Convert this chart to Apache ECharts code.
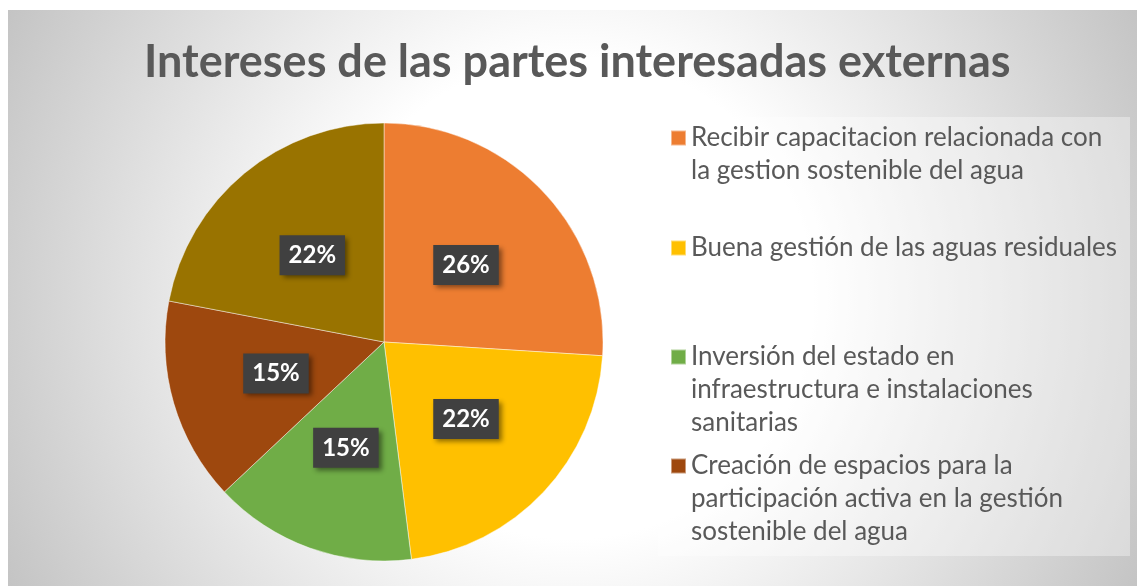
<!DOCTYPE html>
<html>
<head>
<meta charset="utf-8">
<script src="https://cdn.jsdelivr.net/npm/echarts@6/dist/echarts.min.js"></script>
<style>
  html, body { margin: 0; padding: 0; background: #fff; }
  #chart {
    position: absolute;
    left: 8px;
    top: 10px;
    width: 1129px;
    height: 576px;
    background: radial-gradient(circle farthest-corner at 50% 50%, #ffffff 0%, #ffffff 38%, #c4c4c4 100%);
  }
</style>
</head>
<body>
<div id="chart"></div>
<script>
const titleText = 'Intereses de las partes interesadas externas';

const categories = [
    'Recibir capacitacion relacionada con la gestion sostenible del agua',
    'Buena gestión de las aguas residuales',
    'Inversión del estado en infraestructura e instalaciones sanitarias',
    'Creación de espacios para la participación activa en la gestión sostenible del agua',
    'Otros intereses'
];

// legend text as it wraps in the picture (5th entry is cut off there)
const legendLines = [
    ['Recibir capacitacion relacionada con', 'la gestion sostenible del agua'],
    ['Buena gestión de las aguas residuales'],
    ['Inversión del estado en', 'infraestructura e instalaciones', 'sanitarias'],
    ['Creación de espacios para la', 'participación activa en la gestión', 'sostenible del agua']
];

const values = [26, 22, 15, 15, 22];

const colors = ['#ED7D31', '#FFC000', '#70AD47', '#9E480E', '#997300'];

const LH = 33;
// centre of the first text line of each legend entry (px from chart top)
const legendRows = [128, 238, 347, 456];

// legend centres text on the icon, so pad with blank lines above
// to keep the icon level with the first line
const legends = legendLines.map((lines, i) => {
    const n = lines.length;
    const text = '\n'.repeat(n - 1) + lines.join('\n');
    return {
        data: [categories[i]],
        orient: 'vertical',
        left: 662,
        top: legendRows[i] - (2 * n - 1) * LH / 2,
        padding: 0,
        icon: 'rect',
        itemWidth: 15,
        itemHeight: 15,
        selectedMode: false,
        formatter: () => text,
        textStyle: {
            fontFamily: 'Lato',
            fontSize: 26,
            color: '#595959',
            lineHeight: LH
        }
    };
});

const chart = echarts.init(document.getElementById('chart'));
chart.setOption({
    backgroundColor: 'transparent',
    color: colors,
    animation: false,
    title: {
        text: titleText,
        left: 131,
        top: 25,
        textStyle: {
            fontFamily: 'Lato',
            fontWeight: 'bold',
            fontSize: 45,
            color: '#595959'
        }
    },
    graphic: [{
        type: 'rect',
        left: 650,
        top: 107,
        z: -1,
        shape: { width: 472, height: 439 },
        style: { fill: 'rgba(255,255,255,0.35)' }
    }],
    legend: legends,
    series: [{
        type: 'pie',
        center: [376, 332],
        radius: 219,
        startAngle: 90,
        clockwise: true,
        itemStyle: {
            borderColor: 'rgba(255,255,255,0.45)',
            borderWidth: 1
        },
        label: {
            position: 'inside',
            formatter: p => Math.round(p.percent) + '%',
            fontFamily: 'Lato',
            fontWeight: 'bold',
            fontSize: 24,
            color: '#fff',
            backgroundColor: '#404040',
            padding: [9, 9, 7, 9],
            shadowColor: 'rgba(0,0,0,0.45)',
            shadowBlur: 5,
            shadowOffsetX: 3,
            shadowOffsetY: 3
        },
        labelLine: { show: false },
        emphasis: { disabled: true },
        data: categories.map((name, i) => ({ name, value: values[i] }))
    }]
});
</script>
</body>
</html>
